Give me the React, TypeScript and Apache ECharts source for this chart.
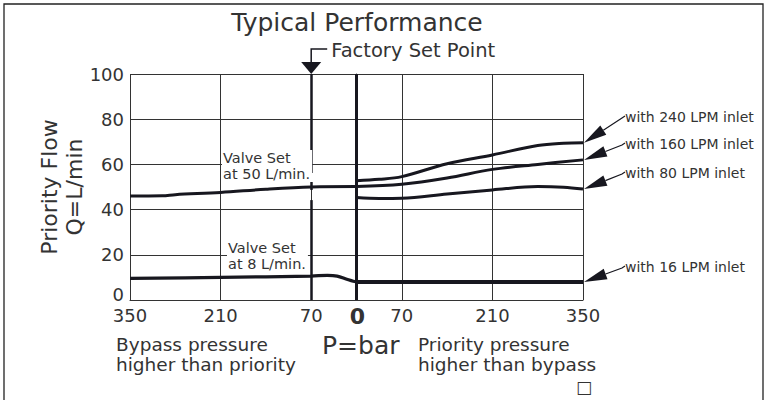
import React, { useEffect, useRef } from "react";
import * as echarts from "echarts";

// ---- data ----
const xMin = -350;
const xMax = 350;
const xInterval = 140;
const yMin = 0;
const yMax = 100;
const yInterval = 20;

// left side (bypass pressure higher than priority) – negative x
const valve50X = [-350, -300, -280, -210, -140, -70, 0];
const valve50Y = [46.0, 46.1, 46.6, 47.6, 49.0, 50.0, 50.2];
const valve8X = [-350, -210, -70, -45, -30, -15, -5, 0];
const valve8Y = [9.6, 10.0, 10.6, 10.9, 10.6, 9.2, 8.3, 8.0];

// right side (priority pressure higher than bypass)
const inlet240X = [0, 35, 70, 140, 210, 280, 320, 350];
const inlet240Y = [52.8, 53.4, 54.6, 60.3, 64.2, 68.4, 69.4, 69.6];
const inlet160X = [0, 70, 140, 210, 280, 350];
const inlet160Y = [50.2, 51.2, 54.0, 57.8, 60.0, 62.0];
const inlet80X = [0, 35, 70, 140, 210, 280, 320, 350];
const inlet80Y = [45.3, 44.9, 45.0, 46.9, 48.7, 50.2, 49.9, 49.1];
const inlet16X = [0, 350];
const inlet16Y = [8.0, 8.0];

const inletNames = ["with 240 LPM inlet", "with 160 LPM inlet", "with 80 LPM inlet", "with 16 LPM inlet"];
const inletLabelY = [117, 144, 173, 267]; // pixel rows of the right-hand callouts

const setPointX = -70;
const setPointSegments = [
  [0, 44.2],
  [48.7, 52.2],
  [56.2, 100],
];
const zeroX = 0;

const pairs = (xs: number[], ys: number[]) => xs.map((x, i) => [x, ys[i]]);

const FONT = "DejaVu Sans";
const TXT = "#333";
const INK = "#17171f";

export default function App() {
  const ref = useRef<HTMLDivElement>(null);

  useEffect(() => {
    if (!ref.current) return;
    const chart = echarts.init(ref.current, undefined, { renderer: "svg" });

    const curve = (name: string, data: number[][], width: number) => ({
      name,
      type: "line",
      data,
      smooth: 0.35,
      symbol: "none",
      lineStyle: { color: INK, width },
      z: 5,
    });

    chart.setOption({
      animation: false,
      backgroundColor: "#fff",
      grid: { left: 130, right: 184, top: 74, bottom: 100, outerBoundsMode: "none", containLabel: false },
      xAxis: {
        type: "value",
        min: xMin,
        max: xMax,
        interval: xInterval,
        axisLine: { show: true, lineStyle: { color: "#333", width: 1 } },
        axisTick: { show: false },
        splitLine: { show: true, lineStyle: { color: "#333", width: 1 } },
        axisLabel: {
          formatter: (v: number) => String(Math.abs(v)),
          fontFamily: FONT,
          fontSize: 18,
          color: TXT,
          margin: 6,
        },
      },
      yAxis: {
        type: "value",
        min: yMin,
        max: yMax,
        interval: yInterval,
        axisLine: { show: true, lineStyle: { color: "#333", width: 1 } },
        axisTick: { show: false },
        splitLine: { show: true, lineStyle: { color: "#333", width: 1 } },
        axisLabel: {
          fontFamily: FONT,
          fontSize: 18,
          color: TXT,
          margin: 6,
          formatter: (v: number) => (v === 0 ? "{z|0}" : String(v)),
          rich: { z: { fontFamily: FONT, fontSize: 18, color: TXT, padding: [0, 0, 12, 0] } },
        },
      },
      series: [
        curve("Valve Set at 50 L/min.", pairs(valve50X, valve50Y), 3),
        curve("Valve Set at 8 L/min.", pairs(valve8X, valve8Y), 3.3),
        curve(inletNames[0], pairs(inlet240X, inlet240Y), 3),
        curve(inletNames[1], pairs(inlet160X, inlet160Y), 3),
        curve(inletNames[2], pairs(inlet80X, inlet80Y), 3),
        curve(inletNames[3], pairs(inlet16X, inlet16Y), 4),
        {
          name: "guides",
          type: "line",
          data: [],
          symbol: "none",
          z: 4,
          markLine: {
            silent: true,
            symbol: ["none", "none"],
            label: { show: false },
            data: [
              [
                { coord: [zeroX, yMin], lineStyle: { color: INK, width: 3, type: "solid" } },
                { coord: [zeroX, yMax] },
              ],
              ...setPointSegments.map((s) => [
                { coord: [setPointX, s[0]], lineStyle: { color: INK, width: 2.5, type: "solid" } },
                { coord: [setPointX, s[1]] },
              ]),
            ],
          },
        },
      ],
    });

    const px = (x: number, y: number) => chart.convertToPixel({ gridIndex: 0 }, [x, y]) as number[];

    const graphics: any[] = [];
    const text = (t: string, x: number, y: number, size: number, extra: any = {}) =>
      graphics.push({
        type: "text",
        z: 100,
        x,
        y,
        rotation: extra.rotation || 0,
        style: {
          text: t,
          x: 0,
          y: 0,
          fill: TXT,
          fontFamily: FONT,
          fontSize: size,
          fontWeight: extra.fontWeight || "normal",
          textAlign: extra.align || "left",
          verticalAlign: "middle",
          textVerticalAlign: "middle",
          lineHeight: extra.lineHeight,
          backgroundColor: extra.bg,
          padding: extra.padding,
        },
      });

    // outer frame
    graphics.push({
      type: "rect",
      z: 1,
      shape: { x: 4, y: 4, width: 759, height: 410 },
      style: { fill: "none", stroke: "#222", lineWidth: 1.3 },
    });

    // title and annotations
    text("Typical Performance", 357, 22, 25, { align: "center" });

    const sp = px(setPointX, yMax);
    graphics.push({
      type: "polygon",
      z: 50,
      shape: { points: [[sp[0] - 10, sp[1] - 12], [sp[0] + 10, sp[1] - 12], [sp[0], sp[1]]] },
      style: { fill: INK },
    });
    graphics.push({
      type: "polyline",
      z: 50,
      shape: { points: [[sp[0], sp[1] - 12], [sp[0], sp[1] - 25], [sp[0] + 16, sp[1] - 25]] },
      style: { stroke: INK, lineWidth: 1.5, fill: "none" },
    });
    text("Factory Set Point", sp[0] + 20, sp[1] - 24, 19.5);

    // y axis title
    text("Priority Flow\nQ=L/min", 61.5, 187, 22, { align: "center", rotation: Math.PI / 2, lineHeight: 25 });

    // valve set labels
    text("Valve Set\nat 50 L/min.", 222, 166, 14.5, { lineHeight: 16, bg: "#fff", padding: [0, 2, 0, 1] });
    text("Valve Set\nat 8 L/min.", 227, 256, 14.5, { lineHeight: 16, bg: "#fff", padding: [0, 2, 0, 1] });

    // bold zero tick label
    const z0 = px(zeroX, yMin);
    text("0", z0[0] + 1, z0[1] + 16, 22, { align: "center", fontWeight: "bold" });

    // bottom captions
    text("Bypass pressure\nhigher than priority", 116, 354, 18.5, { lineHeight: 20 });
    text("P=bar", 322, 345, 25);
    text("Priority pressure\nhigher than bypass", 418, 354, 18.5, { lineHeight: 20 });
    text("\u25a1", 584, 387, 17, { align: "center" });

    // right-hand callouts with arrows
    const ends = [
      [inlet240X[inlet240X.length - 1], inlet240Y[inlet240Y.length - 1]],
      [inlet160X[inlet160X.length - 1], inlet160Y[inlet160Y.length - 1]],
      [inlet80X[inlet80X.length - 1], inlet80Y[inlet80Y.length - 1]],
      [inlet16X[inlet16X.length - 1], inlet16Y[inlet16Y.length - 1]],
    ];
    ends.forEach((e, i) => {
      const tip = px(e[0], e[1]);
      const tx = tip[0] + 1;
      const ty = tip[1];
      const sx = 622;
      const sy = inletLabelY[i] + 1;
      const dx = sx - tx;
      const dy = sy - ty;
      const len = Math.hypot(dx, dy);
      const ux = dx / len;
      const uy = dy / len;
      const L = 23;
      const W = 5.5;
      const bx = tx + ux * L;
      const by = ty + uy * L;
      graphics.push({
        type: "polygon",
        z: 60,
        shape: { points: [[tx, ty], [bx - uy * W, by + ux * W], [bx + uy * W, by - ux * W]] },
        style: { fill: INK },
      });
      graphics.push({
        type: "polyline",
        z: 60,
        shape: { points: [[bx, by], [sx, sy], [sx + 3, sy - 2]] },
        style: { stroke: INK, lineWidth: 1.2, fill: "none" },
      });
      text(inletNames[i], 625, inletLabelY[i], 14);
    });

    chart.setOption({ graphic: graphics });

    return () => chart.dispose();
  }, []);

  return (
    <div
      ref={ref}
      style={{ position: "absolute", left: 0, top: 0, width: 767, height: 400, background: "#fff" }}
    />
  );
}
